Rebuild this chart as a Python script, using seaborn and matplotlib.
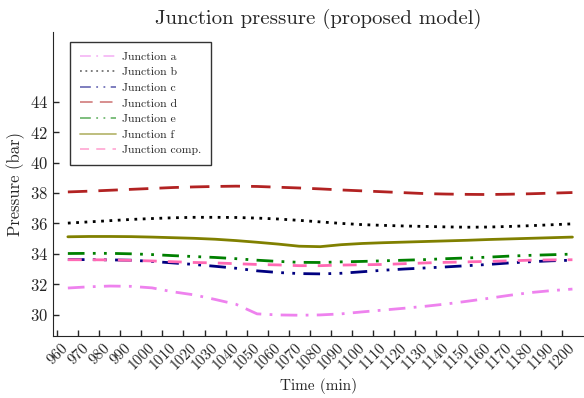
import matplotlib
matplotlib.use("Agg")
import matplotlib.pyplot as plt
import pandas as pd
import seaborn as sns

# time axis (min)
time = list(range(965, 1206, 10))

junction_a = [31.75, 31.83, 31.88, 31.86, 31.76, 31.50, 31.30, 31.00, 30.68, 30.05,
              29.98, 29.96, 29.98, 30.05, 30.18, 30.30, 30.42, 30.55, 30.70, 30.88,
              31.07, 31.27, 31.45, 31.58, 31.68]
junction_b = [36.02, 36.10, 36.18, 36.26, 36.32, 36.37, 36.40, 36.40, 36.39, 36.35,
              36.29, 36.20, 36.10, 36.00, 35.92, 35.87, 35.83, 35.80, 35.77, 35.75,
              35.76, 35.80, 35.85, 35.91, 35.97]
junction_c = [33.62, 33.62, 33.60, 33.58, 33.50, 33.40, 33.30, 33.18, 33.05, 32.88,
              32.77, 32.70, 32.68, 32.72, 32.82, 32.92, 33.00, 33.07, 33.14, 33.22,
              33.30, 33.40, 33.48, 33.54, 33.58]
junction_d = [38.07, 38.12, 38.18, 38.24, 38.30, 38.36, 38.40, 38.43, 38.45, 38.43,
              38.38, 38.33, 38.27, 38.20, 38.14, 38.08, 38.02, 37.96, 37.93, 37.91,
              37.90, 37.92, 37.95, 37.99, 38.03]
junction_e = [34.02, 34.03, 34.03, 34.00, 33.95, 33.88, 33.82, 33.76, 33.68, 33.58,
              33.50, 33.44, 33.43, 33.47, 33.50, 33.54, 33.58, 33.62, 33.68, 33.73,
              33.78, 33.85, 33.90, 33.94, 33.98]
junction_f = [35.12, 35.14, 35.14, 35.13, 35.10, 35.06, 35.02, 34.96, 34.87, 34.76,
              34.64, 34.50, 34.47, 34.60, 34.68, 34.73, 34.77, 34.81, 34.85, 34.89,
              34.94, 34.98, 35.02, 35.06, 35.10]
junction_comp = [33.61, 33.61, 33.60, 33.57, 33.53, 33.48, 33.43, 33.40, 33.35, 33.30,
                 33.27, 33.22, 33.22, 33.26, 33.28, 33.30, 33.35, 33.40, 33.44, 33.47,
                 33.50, 33.54, 33.58, 33.60, 33.61]

labels = ["Junction a", "Junction b", "Junction c", "Junction d",
          "Junction e", "Junction f", "Junction comp."]
series = [junction_a, junction_b, junction_c, junction_d,
          junction_e, junction_f, junction_comp]
colors = ["violet", "black", "navy", "firebrick", "green", "olive", "hotpink"]
styles = [(0, (6, 3, 1, 3)), (0, (1, 2)), (0, (6, 3, 1, 3, 1, 3)), (0, (7, 4)),
          (0, (6, 3, 1, 3, 1, 3)), "-", (0, (5, 4))]

sns.set_style("ticks")
plt.rcParams["font.family"] = ["cmr10", "DejaVu Serif"]
plt.rcParams["mathtext.fontset"] = "cm"
plt.rcParams["axes.formatter.use_mathtext"] = True
plt.rcParams["axes.unicode_minus"] = False

fig, ax = plt.subplots(figsize=(5.84, 3.98), dpi=100)
fig.subplots_adjust(left=0.091, right=1.0, bottom=0.156, top=0.92)

for lab, vals, col, ls in zip(labels, series, colors, styles):
    df = pd.DataFrame({"time": time, "p": vals})
    sns.lineplot(data=df, x="time", y="p", ax=ax, color=col, linestyle=ls,
                 linewidth=2, label=lab)

ax.set_xlim(958, 1210.5)
ax.set_ylim(28.6, 48.6)
ax.set_xticks(range(960, 1201, 10))
ax.set_xticklabels([str(t) for t in range(960, 1201, 10)], rotation=45, fontsize=11)
ax.set_yticks(range(30, 45, 2))
ax.tick_params(axis="y", labelsize=12)
ax.tick_params(direction="in", length=4, width=1)
ax.set_xlabel("Time (min)", fontsize=11)
ax.set_ylabel("Pressure (bar)", fontsize=12)
ax.set_title("Junction pressure (proposed model)", fontsize=15)
sns.despine(ax=ax)

leg = ax.legend(loc="upper left", fontsize=8.5, frameon=True, fancybox=False,
                edgecolor="black", handlelength=3.1, handletextpad=0.5,
                borderpad=0.8, labelspacing=0.45, borderaxespad=0,
                bbox_to_anchor=(0.032, 0.966))
leg.get_frame().set_linewidth(1)
for h in leg.get_lines():
    h.set_alpha(0.55)
    h.set_linewidth(1.3)

fig.savefig("out.png", dpi=100)
